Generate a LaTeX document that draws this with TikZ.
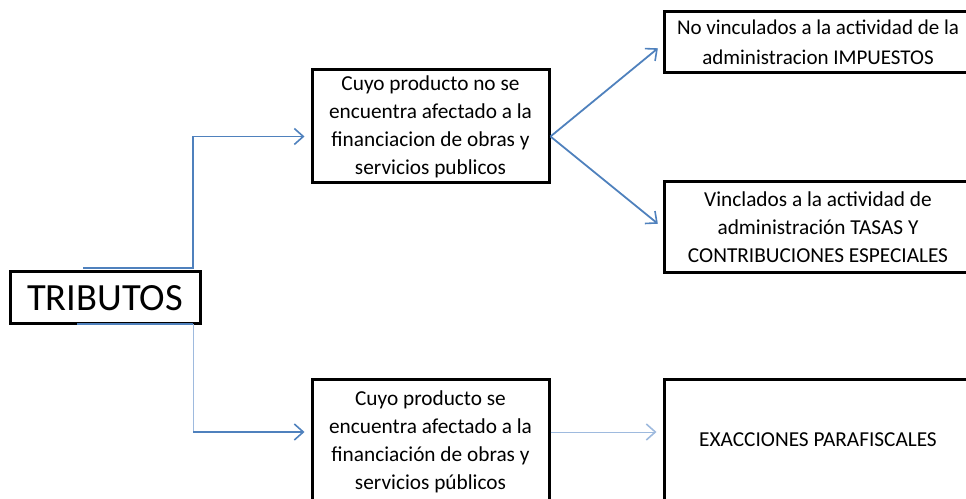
\documentclass[tikz,border=0pt]{standalone}
\usepackage{fontspec}
\setmainfont{Carlito}
\usetikzlibrary{arrows.meta}
\definecolor{linkblue}{RGB}{79,129,189}
\definecolor{paleblue}{RGB}{158,186,222}
\begin{document}
\begin{tikzpicture}[x=1pt, y=1pt,
    box/.style={draw=black, line width=3pt, align=center, inner sep=2pt,
      font=\fontsize{21.3}{28}\selectfont},
    conn/.style={draw=linkblue, line width=1.8pt},
    thin conn/.style={draw=paleblue, line width=1pt},
    tip/.style={-{Straight Barb[length=9pt, width=16pt, line width=1.6pt]}, shorten >=6pt}]
    \useasboundingbox (0,0) rectangle (966,498);
    \clip (0,0) rectangle (966,498);
    \node[box, minimum width=190, minimum height=52, font=\fontsize{38.5}{44}\selectfont] (trib) at (105,200) {TRIBUTOS};
    \node[box, minimum width=237, minimum height=113] (prodno) at (430.5,371.5)
      {Cuyo producto no se\\encuentra afectado a la\\financiacion de obras y\\servicios publicos};
    \node[box, minimum width=237, minimum height=124] (prodsi) at (430.5,56)
      {Cuyo producto se\\encuentra afectado a la\\financiación de obras y\\servicios públicos};
    \node[box, minimum width=308, minimum height=61, font=\fontsize{21}{30}\selectfont] (impuestos) at (818,455.5)
      {No vinculados a la actividad de la\\administracion IMPUESTOS};
    \node[box, minimum width=308, minimum height=91] (tasas) at (818,270.5)
      {Vinclados a la actividad de\\administración TASAS Y\\CONTRIBUCIONES ESPECIALES};
    \node[box, minimum width=308, minimum height=120] (exacc) at (818,58)
      {EXACCIONES PARAFISCALES};
    \coordinate (up) at (83,230);
    \coordinate (upknee) at (193,230);
    \coordinate (down) at (77,174);
    \coordinate (downknee) at (193,174);
    \coordinate (downturn) at (193,66);
    \draw[conn, tip] (up) -- (upknee) |- ([yshift=-10pt]prodno.west);
    \draw[thin conn] (downknee) -- (downturn);
    \draw[conn] (down) -- (downknee);
    \draw[conn, tip] (downturn) -- ([yshift=10pt]prodsi.west);
    \draw[conn, tip] ([yshift=-10pt]prodno.east) -- ([yshift=-2pt]impuestos.west);
    \draw[conn, tip] ([yshift=-10pt]prodno.east) -- (tasas.west);
    \draw[thin conn, tip] ([yshift=10pt]prodsi.east) -- ([yshift=8pt]exacc.west);
\end{tikzpicture}
\end{document}
